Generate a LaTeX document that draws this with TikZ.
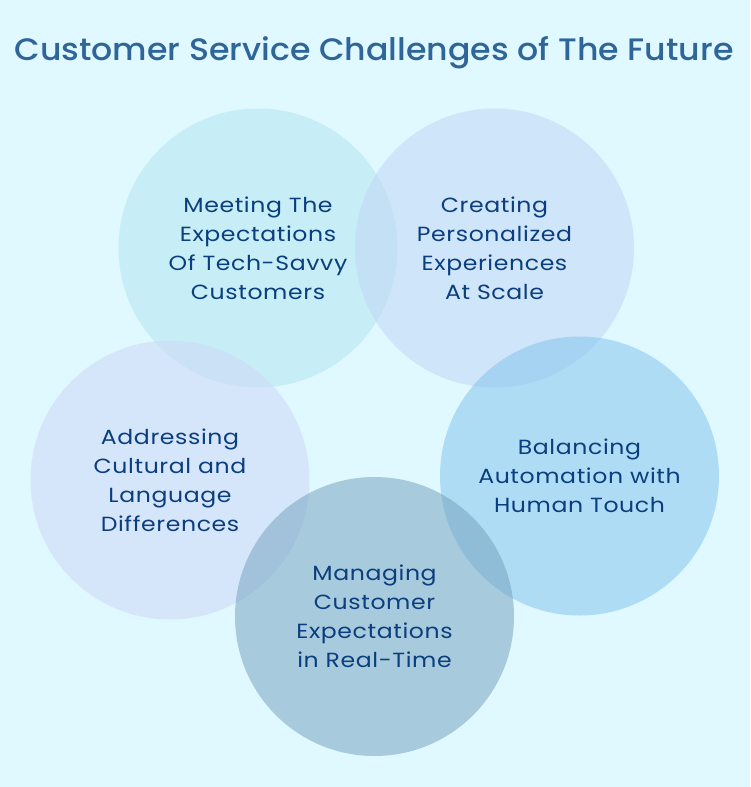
\documentclass[tikz,border=0pt]{standalone}
\usepackage{fontspec}
\setmainfont{Poppins}[FakeStretch=1.15, LetterSpace=3]
\newfontfamily\titlefont{Poppins}[UprightFont={* Medium}, FakeStretch=1.07]
\definecolor{bg}{RGB}{224,248,255}
\definecolor{txt}{RGB}{10,62,126}
\definecolor{ttl}{RGB}{46,102,153}
\definecolor{cA}{RGB}{176,230,239}
\definecolor{cB}{RGB}{192,212,245}
\definecolor{cC}{RGB}{206,214,247}
\definecolor{cD}{RGB}{128,194,237}
\definecolor{cE}{RGB}{112,158,187}
\tikzset{
  bubble/.style={circle, minimum size=279pt, inner sep=0pt, fill opacity=0.5, text opacity=1, text=txt, align=center, font=\fontsize{20.5}{29}\selectfont},
}
\begin{document}
\begin{tikzpicture}[x=1pt,y=-1pt]
\fill[bg] (0,0) rectangle (750,787);
\useasboundingbox (0,0) rectangle (750,787);
\node[text=ttl, font=\titlefont\fontsize{31}{36}\selectfont] (title) at (374,52.5) {Customer Service Challenges of The Future};
\node[bubble, fill=cA] (b1) at (258,248) {Meeting The\\Expectations\\Of Tech-Savvy\\Customers};
\node[bubble, fill=cB] (b2) at (494.5,248) {Creating\\Personalized\\Experiences\\At Scale};
\node[bubble, fill=cC] (b3) at (170,480) {Addressing\\Cultural and\\Language\\Differences};
\node[bubble, fill=cD] (b4) at (579.5,476) {Balancing\\Automation with\\Human Touch};
\node[bubble, fill=cE] (b5) at (374.5,616.5) {Managing\\Customer\\Expectations\\in Real-Time};
\end{tikzpicture}
\end{document}
